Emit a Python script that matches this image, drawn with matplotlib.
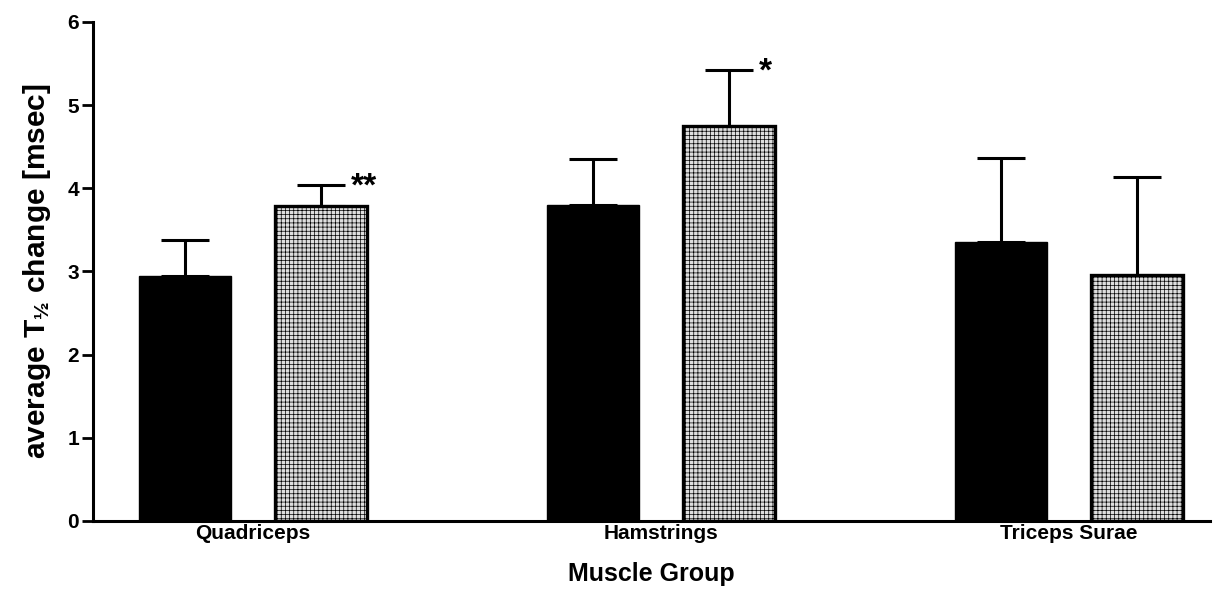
import numpy as np
import matplotlib
matplotlib.use('Agg')
import matplotlib.pyplot as plt

plt.rcParams['font.family'] = ['Liberation Sans', 'DejaVu Sans']
plt.rcParams['font.weight'] = 'bold'
plt.rcParams['mathtext.fontset'] = 'custom'
plt.rcParams['mathtext.rm'] = 'Liberation Sans:bold'
plt.rcParams['mathtext.bf'] = 'Liberation Sans:bold'
plt.rcParams['mathtext.default'] = 'bf'
plt.rcParams['hatch.color'] = '#b4b4b4'
plt.rcParams['hatch.linewidth'] = 0.5

groups = ['Quadriceps', 'Hamstrings', 'Triceps Surae']
black_vals = [2.94, 3.80, 3.35]
black_err = [0.44, 0.55, 1.01]
gray_vals = [3.79, 4.75, 2.96]
gray_err = [0.25, 0.67, 1.17]
marks = ['**', '*', '']

fig = plt.figure(figsize=(12.25, 5.92), dpi=100)
ax = fig.add_axes([0.0759, 0.12, 0.912, 0.843])

x = np.arange(len(groups))
off = 0.167
w = 0.225

ax.bar(x - off, black_vals, w, color='black', edgecolor='black', linewidth=1, zorder=2)
ax.bar(x + off, gray_vals, w, color='#dedede', edgecolor='black', linewidth=2.4,
       hatch='++++', zorder=2)

ax.errorbar(x - off, black_vals, yerr=[np.zeros(3), black_err], fmt='none',
            ecolor='black', elinewidth=2.2, capsize=17, capthick=2.2, zorder=1)
ax.errorbar(x + off, gray_vals, yerr=[np.zeros(3), gray_err], fmt='none',
            ecolor='black', elinewidth=2.2, capsize=17, capthick=2.2, zorder=1)

for i in range(3):
    if marks[i]:
        ax.text(x[i] + off + 0.072, gray_vals[i] + gray_err[i] - 0.02, marks[i],
                fontsize=24, fontweight='bold', ha='left', va='center')

ax.set_xlim(-0.392, 2.346)
ax.set_ylim(0, 6)
ax.set_yticks(range(7))
ax.set_xticks(x)
ax.set_xticklabels(groups, fontsize=15, fontweight='bold')
ax.tick_params(axis='x', length=0, pad=2)
ax.tick_params(axis='y', length=8, width=2, labelsize=15, pad=2)
for sp in ['top', 'right']:
    ax.spines[sp].set_visible(False)
for sp in ['left', 'bottom']:
    ax.spines[sp].set_linewidth(2.2)

ax.set_xlabel('Muscle Group', fontsize=18, fontweight='bold', labelpad=14)
ax.set_ylabel('average T$_{½}$ change [msec]', fontsize=21.5, fontweight='bold', labelpad=10)

fig.savefig('out.png', dpi=100)
